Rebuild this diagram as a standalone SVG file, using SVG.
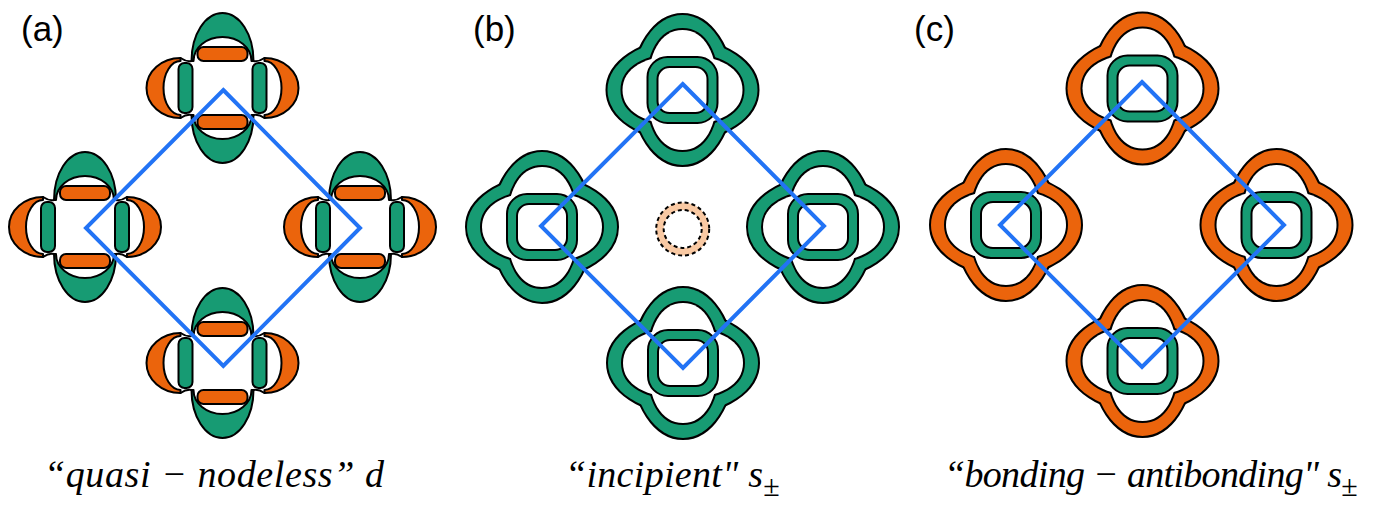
<svg xmlns="http://www.w3.org/2000/svg" xmlns:xlink="http://www.w3.org/1999/xlink" width="1377" height="506" viewBox="0 0 1377 506">
<style>
.ol{fill:none;stroke:#000;stroke-width:4}
.gf{fill:#179b73}
.of{fill:#eb640c}
.wf{fill:#fff}
.sk{stroke:#000;stroke-width:2;stroke-linejoin:round}
.nk{fill:none;stroke:#000;stroke-width:2;stroke-linecap:round}
.dia{fill:none;stroke:#2273f5;stroke-width:4;stroke-linejoin:miter}
.lab{font-family:"Liberation Sans",Arial,sans-serif;font-size:35px;fill:#000}
.cap{font-family:"Liberation Serif","Times New Roman",serif;font-style:italic;font-size:38px;fill:#000}
.sub{font-style:normal;font-size:30px}
</style>
<defs>
<g id="lobesOuter">
<ellipse rx="75" ry="50"/><ellipse rx="50" ry="75"/>
</g>
<g id="lobesInner">
<path d="M 60,0 C 60,22 37,35 0,35 C -37,35 -60,22 -60,0 C -60,-22 -37,-35 0,-35 C 37,-35 60,-22 60,0 Z"/>
<path d="M 0,60 C 22,60 35,37 35,0 C 35,-37 22,-60 0,-60 C -22,-60 -35,-37 -35,0 C -35,37 -22,60 0,60 Z"/>
</g>
<g id="bandG">
<use xlink:href="#lobesOuter" class="ol"/>
<use xlink:href="#lobesOuter" class="gf"/>
<use xlink:href="#lobesInner" class="ol"/>
<use xlink:href="#lobesInner" class="wf"/>
</g>
<g id="bandO">
<use xlink:href="#lobesOuter" class="ol"/>
<use xlink:href="#lobesOuter" class="of"/>
<use xlink:href="#lobesInner" class="ol"/>
<use xlink:href="#lobesInner" class="wf"/>
</g>
<g id="ringG">
<rect x="-35" y="-33" width="70" height="66" rx="20" class="gf sk"/>
<rect x="-25" y="-23" width="50" height="46" rx="12" class="wf sk"/>
</g>
<g id="pocketB"><use xlink:href="#bandG"/><use xlink:href="#ringG"/></g>
<g id="pocketC"><use xlink:href="#bandO"/><use xlink:href="#ringG"/></g>
<path id="crescV" d="M -31,-27 A 31 48 0 0 1 31,-27 L 29,-27 A 29 24 0 0 0 -29,-27 Z"/>
<path id="crescH" d="M -42,-30 A 34 30 0 0 0 -42,30 L -42,27 A 17 27 0 0 1 -42,-27 Z"/>
<path id="neck" d="M -31,-27 Q -36,-26 -42,-30"/>
<g id="pocketA">
<use xlink:href="#crescV" class="gf sk"/>
<use xlink:href="#crescV" class="gf sk" transform="scale(1,-1)"/>
<use xlink:href="#crescH" class="of sk"/>
<use xlink:href="#crescH" class="of sk" transform="scale(-1,1)"/>
<use xlink:href="#neck" class="nk"/>
<use xlink:href="#neck" class="nk" transform="scale(-1,1)"/>
<use xlink:href="#neck" class="nk" transform="scale(1,-1)"/>
<use xlink:href="#neck" class="nk" transform="scale(-1,-1)"/>
<rect x="-25" y="-41" width="50" height="14" rx="6" class="of sk"/>
<rect x="-25" y="27" width="50" height="14" rx="6" class="of sk"/>
<rect x="-44" y="-25" width="14" height="50" rx="6" class="gf sk"/>
<rect x="30" y="-25" width="14" height="50" rx="6" class="gf sk"/>
</g>
</defs>

<g id="panel-a">
<text class="lab" x="21" y="41">(a)</text>
<g id="a-top" transform="translate(222.5,88)"><use xlink:href="#pocketA"/></g>
<g id="a-left" transform="translate(85,227)"><use xlink:href="#pocketA"/></g>
<g id="a-right" transform="translate(360,227)"><use xlink:href="#pocketA"/></g>
<g id="a-bottom" transform="translate(222.5,363)"><use xlink:href="#pocketA"/></g>
<text class="cap" x="44" y="487" textLength="340" lengthAdjust="spacing">“quasi − nodeless” d</text>
</g>

<g id="panel-b">
<text class="lab" x="473" y="41">(b)</text>
<g id="b-top" transform="translate(682.5,90)"><use xlink:href="#pocketB"/></g>
<g id="b-left" transform="translate(542,227)"><use xlink:href="#pocketB"/></g>
<g id="b-right" transform="translate(823,227)"><use xlink:href="#pocketB"/></g>
<g id="b-bottom" transform="translate(683,363)"><use xlink:href="#pocketB"/></g>
<g id="b-center">
<circle cx="682.7" cy="229" r="22.75" fill="none" stroke="#f9c9a3" stroke-width="7.5"/>
<circle cx="682.7" cy="229" r="26.5" fill="none" stroke="#000" stroke-width="2" stroke-dasharray="4 3"/>
<circle cx="682.7" cy="229" r="19" fill="none" stroke="#000" stroke-width="2" stroke-dasharray="4 3"/>
</g>
<text class="cap" x="565" y="487"><tspan textLength="198" lengthAdjust="spacing">“incipient" s</tspan><tspan class="sub" dy="9">±</tspan></text>
</g>

<g id="panel-c">
<text class="lab" x="914" y="41">(c)</text>
<g id="c-top" transform="translate(1142.5,88.5)"><use xlink:href="#pocketC"/></g>
<g id="c-left" transform="translate(1006,225)"><use xlink:href="#pocketC"/></g>
<g id="c-right" transform="translate(1276.5,225)"><use xlink:href="#pocketC"/></g>
<g id="c-bottom" transform="translate(1142.5,361)"><use xlink:href="#pocketC"/></g>
<text class="cap" x="944" y="487"><tspan textLength="398" lengthAdjust="spacing">“bonding − antibonding" s</tspan><tspan class="sub" dy="9">±</tspan></text>
</g>

<g id="connectors">
<polygon class="dia" points="223.3,90 360,228 223.3,366 86,228"/>
<polygon class="dia" points="682.7,84 824,226 683,368 541,226"/>
<polygon class="dia" points="1142,82 1284,225 1142,367 1000,225"/>
</g>
</svg>
